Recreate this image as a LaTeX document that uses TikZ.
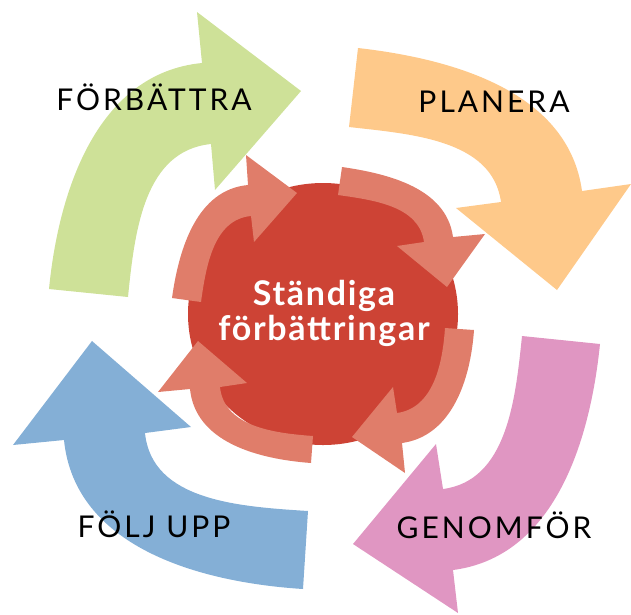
\documentclass[tikz,border=0pt]{standalone}
\usepackage{fontspec}
\setmainfont{Lato}
\newfontfamily\labelfont[LetterSpace=10]{Lato}
\newfontfamily\centerfont[LetterSpace=5]{Lato}
\definecolor{cgreen}{RGB}{206,225,152}
\definecolor{corange}{RGB}{254,201,138}
\definecolor{cpink}{RGB}{224,150,194}
\definecolor{cblue}{RGB}{132,175,214}
\definecolor{cred}{RGB}{205,67,53}
\definecolor{csalmon}{RGB}{224,125,106}
\tikzset{
  lbl/.style={anchor=base,inner sep=0pt,font=\labelfont\fontsize{30}{36}\selectfont,text=black},
  ctr/.style={anchor=base,inner sep=0pt,font=\centerfont\bfseries\fontsize{34}{40}\selectfont,text=white},
}
\begin{document}
\begin{tikzpicture}[x=1pt,y=-1pt]
\useasboundingbox (0,0) rectangle (631,614);
% big arrows
\fill[cgreen] (49,289) .. controls (59,187) and (99,73) .. (202,63) -- (197,12) -- (301,91) -- (215,190) -- (211,144) .. controls (144.3,150.7) and (134.7,230.3) .. (128,297) -- cycle;
\fill[corange] (358,48) .. controls (456.5,59.2) and (568.5,92.9) .. (582,191) -- (631,184) -- (557,290) -- (456,208) -- (501,202) .. controls (492.4,139.6) and (411.7,134.1) .. (349,127) -- cycle;
\fill[cpink] (600,344) .. controls (589.7,444.4) and (553.1,557) .. (453,570) -- (458,613) -- (353,544) -- (436,444) -- (443,489) .. controls (506.9,480.7) and (515.4,400.1) .. (522,336) -- cycle;
\fill[cblue] (303,589) .. controls (196.7,582.2) and (74.6,546) .. (64,440) -- (13,445) -- (92,341) -- (191,427) -- (145,433) .. controls (151.8,501.1) and (239.7,506.6) .. (308,511) -- cycle;
% central blob
\fill[cred] (323,314) ellipse [x radius=135, y radius=131];
% small arrows
\fill[csalmon] (172,298) .. controls (179,247.6) and (197.3,189.7) .. (248,185) -- (246,155) -- (297,193) -- (254,242) -- (251,216) .. controls (214,219.4) and (206.1,265.2) .. (201,302) -- cycle;
\fill[csalmon] (342,167) .. controls (390.1,173.9) and (446.4,188.8) .. (453,237) -- (485,234) -- (447,287) -- (397,246) -- (424,242) .. controls (419.1,206) and (373.9,200.1) .. (338,195) -- cycle;
\fill[csalmon] (474,330) .. controls (470.5,380.1) and (451.7,436.1) .. (402,443) -- (405,473) -- (352,437) -- (393,387) -- (397,413) .. controls (433.2,408) and (442.5,364.4) .. (445,328) -- cycle;
\fill[csalmon] (311,463) .. controls (257.7,459) and (195.4,442.2) .. (190,389) -- (158,392) -- (198,341) -- (247,383) -- (220,387) .. controls (224,426.5) and (273.4,433.1) .. (313,436) -- cycle;
% labels
\node[lbl] (forbattra) at (154,110) {FÖRBÄTTRA};
\node[lbl] (planera) at (494,112) {PLANERA};
\node[lbl] (genomfor) at (494,538) {GENOMFÖR};
\node[lbl] (foljupp) at (154,537) {FÖLJ UPP};
\node[ctr] (c1) at (324,305) {Ständiga};
\node[ctr] (c2) at (324,340) {förbättringar};
\end{tikzpicture}
\end{document}
